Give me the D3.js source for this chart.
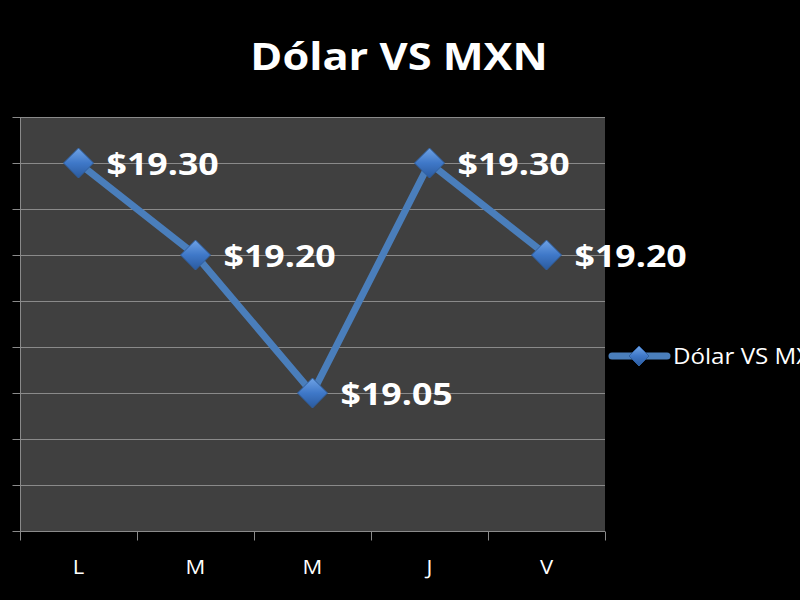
<!DOCTYPE html>
<html><head><meta charset="utf-8">
<script src="https://cdn.jsdelivr.net/npm/d3@7"></script>
<style>html,body{margin:0;padding:0;background:#000;}svg{display:block;}</style>
</head><body>
<script>
const categories = ["L", "M", "M", "J", "V"];
const values = [19.30, 19.20, 19.05, 19.30, 19.20];
const seriesName = "Dólar VS MXN";
const yTicks = [18.90, 18.95, 19.00, 19.05, 19.10, 19.15, 19.20, 19.25, 19.30, 19.35];

const W = 800, H = 600;
const m = {left: 20, top: 117, right: 605, bottom: 531};
const font = "'Open Sans', 'Noto Sans', sans-serif";

const svg = d3.select("body").append("svg").attr("width", W).attr("height", H)
  .style("background", "#000");

const defs = svg.append("defs");
const grad = defs.append("linearGradient").attr("id", "mk").attr("x1", 0).attr("y1", 0).attr("x2", 0).attr("y2", 1);
grad.append("stop").attr("offset", "0%").attr("stop-color", "#6fa3e6");
grad.append("stop").attr("offset", "50%").attr("stop-color", "#3f78c8");
grad.append("stop").attr("offset", "100%").attr("stop-color", "#2a5a9e");

const x = d3.scaleBand().domain(d3.range(categories.length)).range([m.left, m.right]);
const y = d3.scaleLinear().domain([18.90, 19.35]).range([m.bottom, m.top]);

// plot area
svg.append("rect").attr("x", m.left).attr("y", m.top).attr("width", m.right - m.left).attr("height", m.bottom - m.top)
  .attr("fill", "#404040");

// gridlines
svg.append("g").selectAll("line").data(yTicks).join("line")
  .attr("x1", m.left).attr("x2", m.right)
  .attr("y1", d => Math.round(y(d)) + 0.5).attr("y2", d => Math.round(y(d)) + 0.5)
  .attr("stroke", "#8a8a8a").attr("stroke-width", 1);

// y axis
const yAxis = svg.append("g").attr("transform", `translate(${m.left + 0.5},0)`)
  .call(d3.axisLeft(y).tickValues(yTicks).tickSize(8).tickFormat(""));
yAxis.selectAll("line").attr("stroke", "#8a8a8a");
yAxis.select(".domain").attr("stroke", "#8a8a8a").attr("d", `M0,${m.top}V${m.bottom}`);

// x axis
const xAxis = svg.append("g").attr("transform", `translate(0,${m.bottom + 0.5})`);
xAxis.append("line").attr("x1", m.left).attr("x2", m.right).attr("stroke", "#8a8a8a");
const bounds = d3.range(categories.length + 1).map(i => m.left + i * x.step());
xAxis.selectAll("line.t").data(bounds).join("line").attr("class", "t")
  .attr("x1", d => Math.round(d) + 0.5).attr("x2", d => Math.round(d) + 0.5)
  .attr("y1", 0).attr("y2", 9).attr("stroke", "#8a8a8a");
xAxis.selectAll("text").data(categories).join("text")
  .attr("transform", (d, i) => `translate(${x(i) + x.bandwidth() / 2},42) scale(1.1,1)`)
  .attr("text-anchor", "middle").attr("fill", "#fff")
  .style("font-family", font).style("font-size", "20px").text(d => d);

// line
const cx = i => x(i) + x.bandwidth() / 2;
svg.append("path").datum(values)
  .attr("d", d3.line().x((d, i) => cx(i)).y(d => y(d)))
  .attr("fill", "none").attr("stroke", "#4a7ebb").attr("stroke-width", 7).attr("stroke-linejoin", "round");

// markers
const diamond = (px, py, r) => `M${px},${py - r}L${px + r},${py}L${px},${py + r}L${px - r},${py}Z`;
svg.append("g").selectAll("path").data(values).join("path")
  .attr("d", (d, i) => diamond(cx(i), y(d), 15))
  .attr("fill", "url(#mk)").attr("stroke", "#2f5f9f").attr("stroke-width", 1);

// labels
svg.append("g").selectAll("text").data(values).join("text")
  .attr("transform", (d, i) => `translate(${cx(i) + 28},${y(d) + 12}) scale(1.19,1)`)
  .attr("fill", "#fff").style("font-family", font).style("font-weight", "bold").style("font-size", "30px")
  .text(d => "$" + d.toFixed(2));

// title
svg.append("text").attr("transform", "translate(399,70) scale(1.14,1)").attr("text-anchor", "middle")
  .attr("fill", "#fff").style("font-family", font).style("font-weight", "bold").style("font-size", "38px")
  .text(seriesName);

// legend
const lg = svg.append("g").attr("transform", "translate(0,356)");
lg.append("line").attr("x1", 612).attr("x2", 667).attr("y1", 0).attr("y2", 0)
  .attr("stroke", "#4a7ebb").attr("stroke-width", 7).attr("stroke-linecap", "round");
lg.append("path").attr("d", diamond(639, 0, 10)).attr("fill", "url(#mk)").attr("stroke", "#2f5f9f");
lg.append("text").attr("transform", "translate(673,8) scale(1.15,1)").attr("fill", "#fff")
  .style("font-family", font).style("font-size", "21px").text(seriesName);
</script>
</body></html>
